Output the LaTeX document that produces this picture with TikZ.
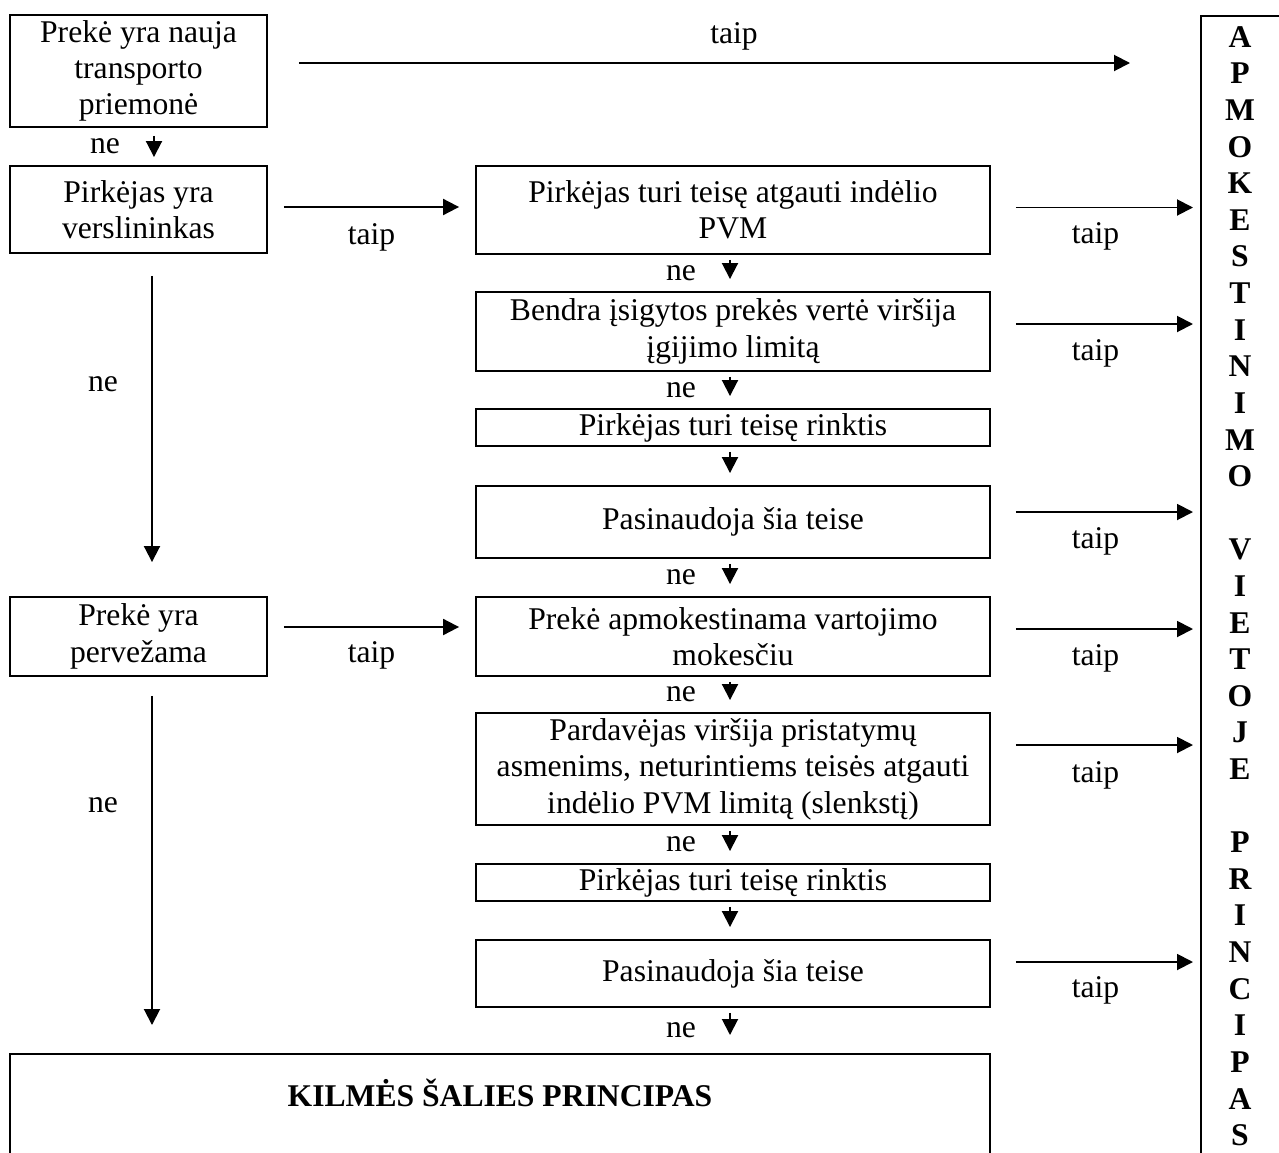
\documentclass[tikz,border=0pt]{standalone}
\usepackage{fontspec}
\setmainfont{Liberation Serif}
\usepackage{tikz}
\usetikzlibrary{arrows.meta}
\tikzset{
	boxstyle/.style={rectangle,draw=black,line width=1.1pt,align=center,inner sep=0pt},
	barstyle/.style={rectangle,draw=black,line width=1.1pt,inner sep=0pt},
	arrowstyle/.style={-{Triangle[length=0.32cm,width=0.32cm]},line width=1.1pt},
	downstyle/.style={arrowstyle,shorten <=0.1cm,shorten >=0.24cm},
	rightstyle/.style={arrowstyle,shorten <=0.5cm,shorten >=0.14cm},
	labelstyle/.style={inner sep=0pt}
}

\begin{document}
\begin{tikzpicture}[x=0.02cm,y=-0.02cm,font=\fontsize{18}{20.7}\selectfont]
	\useasboundingbox (0,0) rectangle (1279,1153);
	% left column
	\node[boxstyle,minimum width=5.14cm,minimum height=2.24cm] (nauja) at (138.5,71) {Prekė yra nauja\\transporto\\priemonė};
	\node[boxstyle,minimum width=5.14cm,minimum height=1.74cm] (verslininkas) at (138.5,209.5) {Pirkėjas yra\\verslininkas};
	\node[boxstyle,minimum width=5.14cm,minimum height=1.58cm] (pervezama) at (138.5,636.5) {Prekė yra\\pervežama};
	% middle column
	\node[boxstyle,minimum width=10.28cm,minimum height=1.76cm] (pvm) at (733,210) {Pirkėjas turi teisę atgauti indėlio\\PVM};
	\node[boxstyle,minimum width=10.28cm,minimum height=1.58cm] (limitas) at (733,331.5) {Bendra įsigytos prekės vertė viršija\\įgijimo limitą};
	\node[boxstyle,minimum width=10.28cm,minimum height=0.74cm] (rinktis1) at (733,427.5) {Pirkėjas turi teisę rinktis};
	\node[boxstyle,minimum width=10.28cm,minimum height=1.44cm] (teise1) at (733,522) {Pasinaudoja šia teise};
	\node[boxstyle,minimum width=10.28cm,minimum height=1.58cm] (vartojimo) at (733,636.5) {Prekė apmokestinama vartojimo\\mokesčiu};
	\node[boxstyle,minimum width=10.28cm,minimum height=2.24cm] (slenkstis) at (733,769) {Pardavėjas viršija pristatymų\\asmenims, neturintiems teisės atgauti\\indėlio PVM limitą (slenkstį)};
	\node[boxstyle,minimum width=10.28cm,minimum height=0.74cm] (rinktis2) at (733,882.5) {Pirkėjas turi teisę rinktis};
	\node[boxstyle,minimum width=10.28cm,minimum height=1.34cm] (teise2) at (733,973.5) {Pasinaudoja šia teise};
	% bottom box and right bar
	\node[boxstyle,anchor=north,minimum width=19.6cm,text height=1.06cm,text depth=2.94cm] (kilmes) at (500,1053) {\bfseries KILMĖS ŠALIES PRINCIPAS};
	\node[barstyle,anchor=north west,minimum width=2.4cm,minimum height=24cm] (bar) at (1200,15) {};
	\node[labelstyle,anchor=north,align=center,font=\fontsize{18}{20.84}\selectfont\bfseries] (barlabel) at (1240,26) {A\\P\\M\\O\\K\\E\\S\\T\\I\\N\\I\\M\\O\\~\\V\\I\\E\\T\\O\\J\\E\\~\\P\\R\\I\\N\\C\\I\\P\\A\\S};
	% taip arrows
	\draw[arrowstyle,shorten <=0.62cm,shorten >=1.4cm] ([yshift=0.16cm]nauja.east) -- ([yshift=0.16cm]nauja.east -| bar.west) node[labelstyle,midway,yshift=0.54cm] {taip};
	\draw[arrowstyle,shorten <=0.32cm,shorten >=0.32cm] ([yshift=0.05cm]verslininkas.east) -- ([yshift=0.05cm]verslininkas.east -| pvm.west) node[labelstyle,midway,yshift=-0.6cm] {taip};
	\draw[arrowstyle,shorten <=0.32cm,shorten >=0.32cm] ([yshift=0.19cm]pervezama.east) -- ([yshift=0.19cm]pervezama.east -| vartojimo.west) node[labelstyle,midway,yshift=-0.56cm] {taip};
	\draw[rightstyle] ([yshift=0.05cm]pvm.east) -- ([yshift=0.05cm]pvm.east -| bar.west) node[labelstyle,midway,yshift=-0.58cm] {taip};
	\draw[rightstyle] ([yshift=0.15cm]limitas.east) -- ([yshift=0.15cm]limitas.east -| bar.west) node[labelstyle,midway,yshift=-0.58cm] {taip};
	\draw[rightstyle] ([yshift=0.2cm]teise1.east) -- ([yshift=0.2cm]teise1.east -| bar.west) node[labelstyle,midway,yshift=-0.58cm] {taip};
	\draw[rightstyle] ([yshift=0.15cm]vartojimo.east) -- ([yshift=0.15cm]vartojimo.east -| bar.west) node[labelstyle,midway,yshift=-0.58cm] {taip};
	\draw[rightstyle] ([yshift=0.48cm]slenkstis.east) -- ([yshift=0.48cm]slenkstis.east -| bar.west) node[labelstyle,midway,yshift=-0.6cm] {taip};
	\draw[rightstyle] ([yshift=0.23cm]teise2.east) -- ([yshift=0.23cm]teise2.east -| bar.west) node[labelstyle,midway,yshift=-0.56cm] {taip};
	% ne arrows
	\draw[arrowstyle,shorten <=0.16cm,shorten >=0.16cm] ([xshift=0.31cm]nauja.south) -- ([xshift=0.31cm]verslininkas.north) node[labelstyle,midway,xshift=-0.98cm] {ne};
	\draw[downstyle] ([xshift=-0.06cm]pvm.south) -- ([xshift=-0.06cm]limitas.north) node[labelstyle,midway,xshift=-0.98cm] {ne};
	\draw[downstyle] ([xshift=-0.06cm]limitas.south) -- ([xshift=-0.06cm]rinktis1.north) node[labelstyle,midway,xshift=-0.98cm] {ne};
	\draw[downstyle] ([xshift=-0.06cm]rinktis1.south) -- ([xshift=-0.06cm]teise1.north);
	\draw[downstyle] ([xshift=-0.06cm]teise1.south) -- ([xshift=-0.06cm]vartojimo.north) node[labelstyle,midway,xshift=-0.98cm] {ne};
	\draw[downstyle] ([xshift=-0.06cm]vartojimo.south) -- ([xshift=-0.06cm]slenkstis.north) node[labelstyle,midway,xshift=-0.98cm] {ne};
	\draw[downstyle] ([xshift=-0.06cm]slenkstis.south) -- ([xshift=-0.06cm]rinktis2.north) node[labelstyle,midway,xshift=-0.98cm] {ne};
	\draw[downstyle] ([xshift=-0.06cm]rinktis2.south) -- ([xshift=-0.06cm]teise2.north);
	\draw[downstyle,shorten >=0.36cm] ([xshift=-0.06cm]teise2.south) -- ([xshift=-0.06cm]teise2.south |- kilmes.north) node[labelstyle,midway,xshift=-0.98cm] {ne};
	\draw[arrowstyle,shorten <=0.44cm,shorten >=0.68cm] ([xshift=0.27cm]verslininkas.south) -- ([xshift=0.27cm]pervezama.north) node[labelstyle,pos=0.38,xshift=-0.98cm] {ne};
	\draw[arrowstyle,shorten <=0.38cm,shorten >=0.56cm] ([xshift=0.27cm]pervezama.south) -- ([xshift=0.27cm]pervezama.south |- kilmes.north) node[labelstyle,pos=0.34,xshift=-0.98cm] {ne};
\end{tikzpicture}
\end{document}
